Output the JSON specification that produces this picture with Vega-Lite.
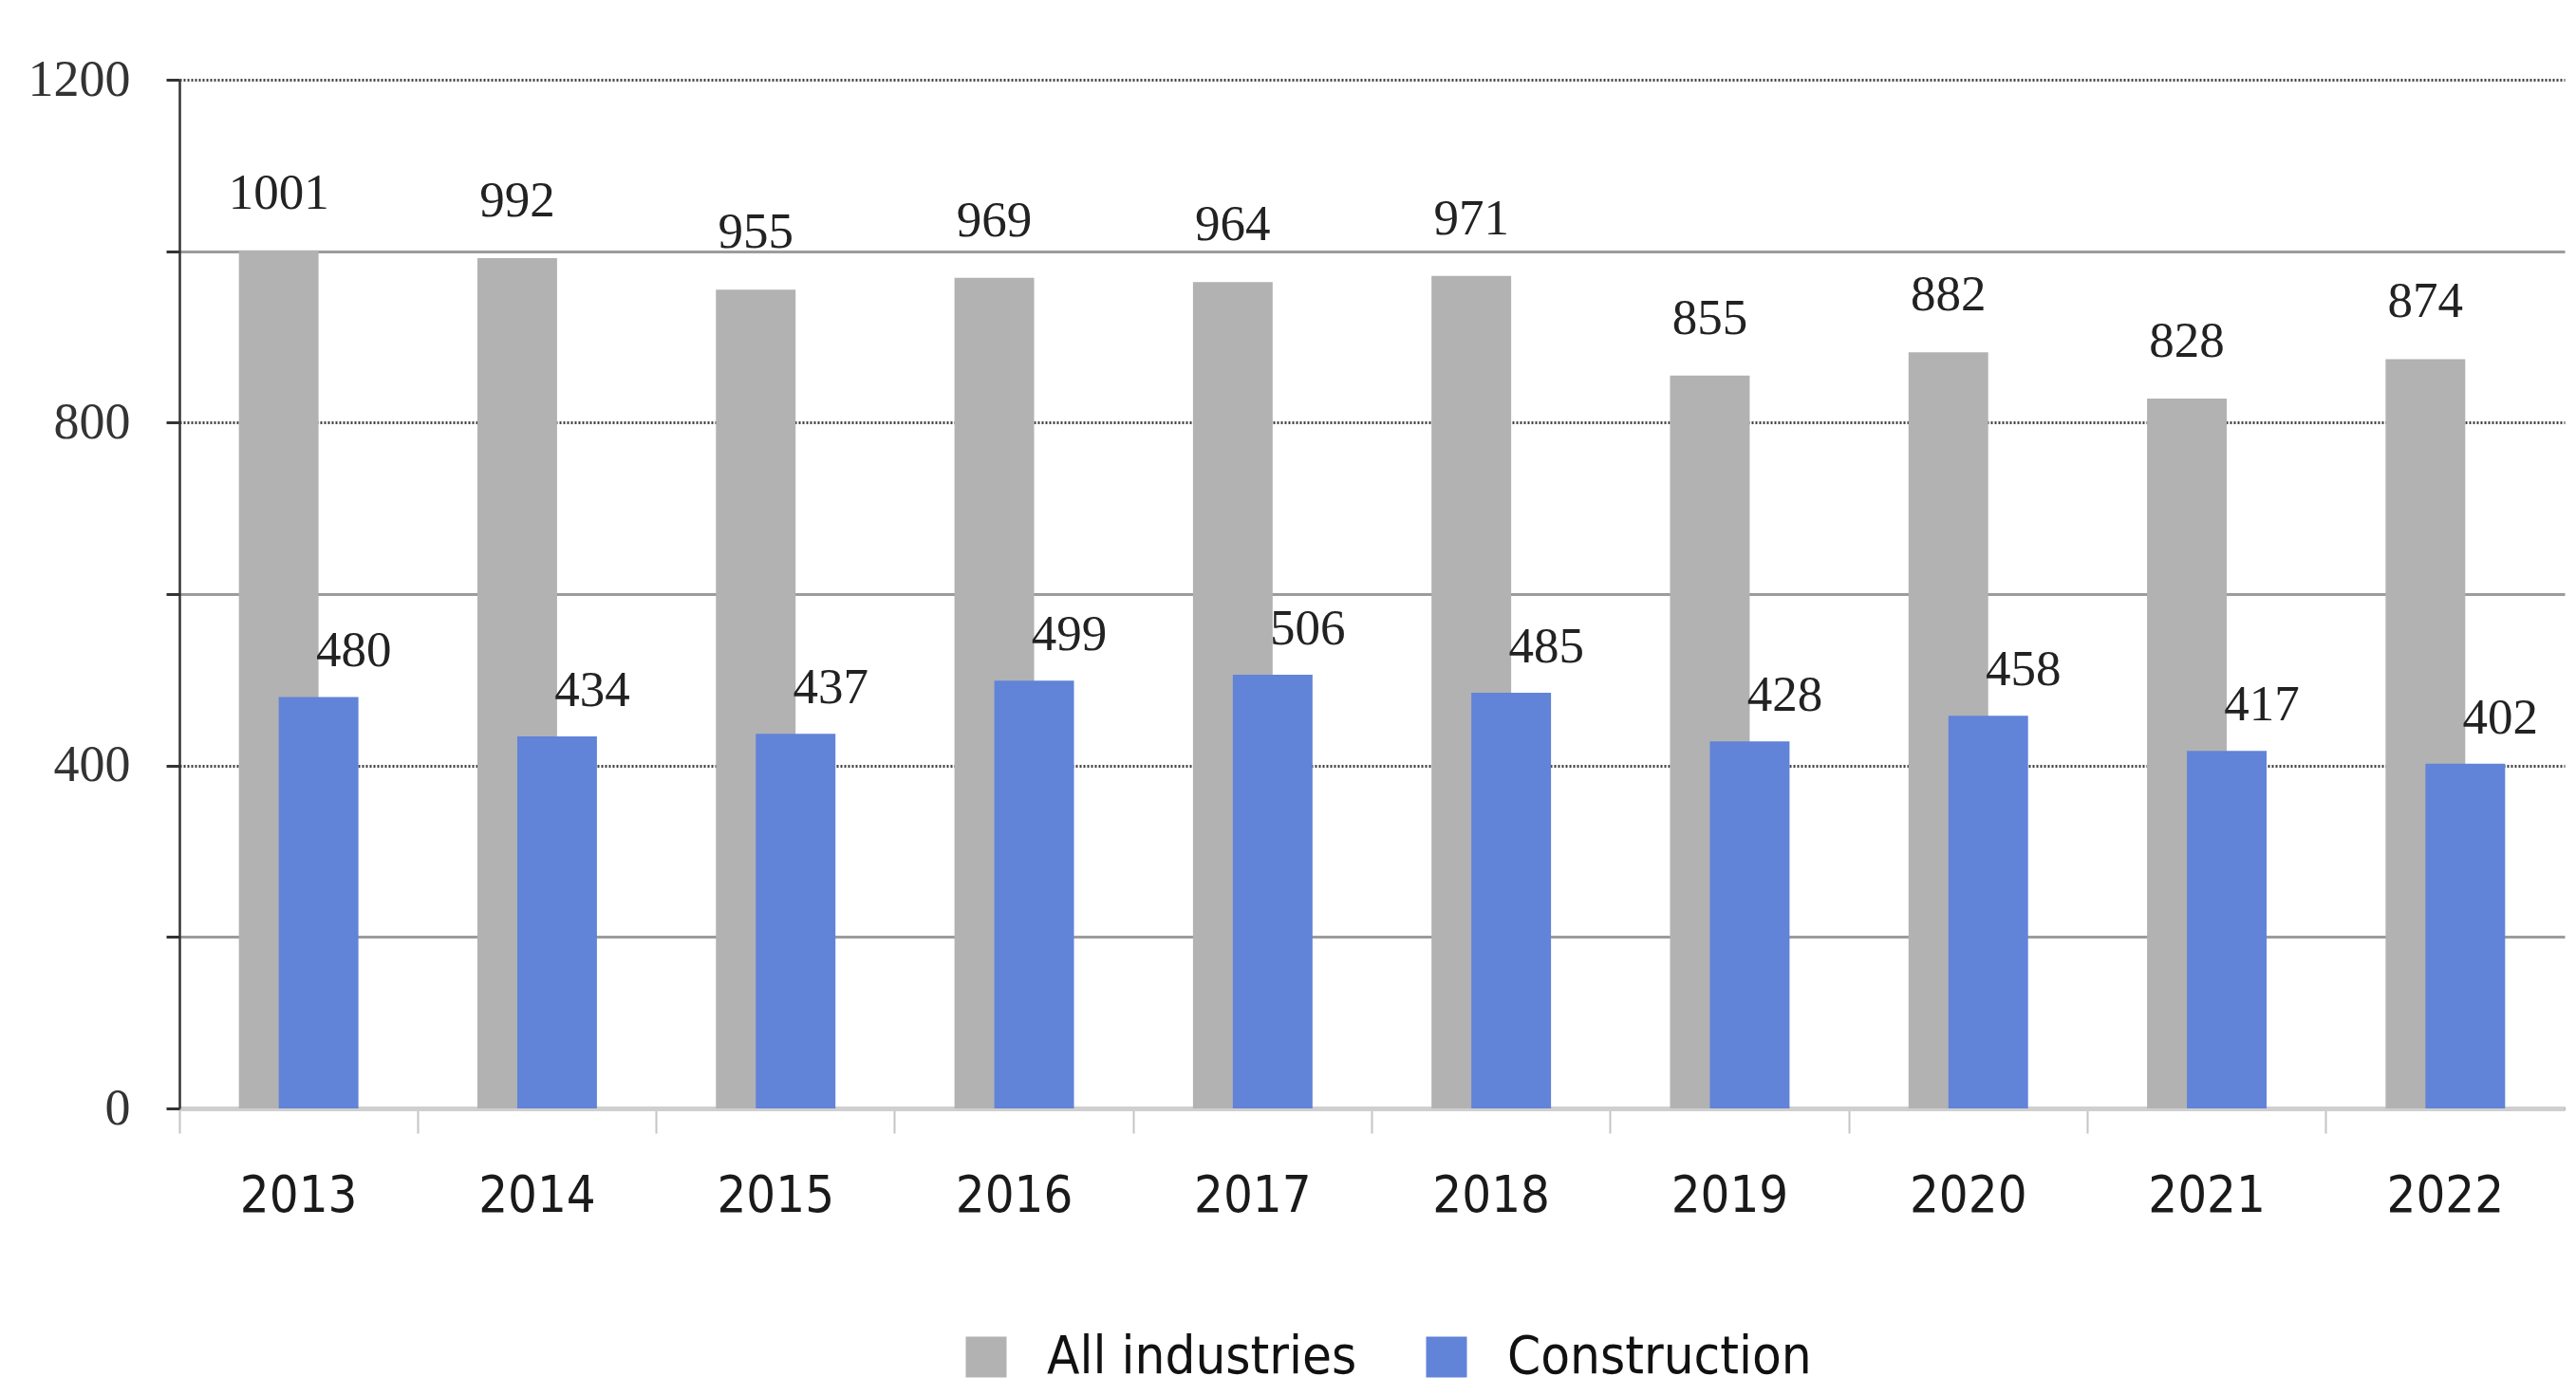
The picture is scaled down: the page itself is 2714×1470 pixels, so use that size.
{
  "$schema": "https://vega.github.io/schema/vega-lite/v6.json",
  "width": 2513,
  "height": 1084,
  "autosize": {"type": "none"},
  "padding": {"left": 189, "top": 84, "right": 12, "bottom": 302},
  "background": "white",
  "data": {
    "values": [
      {"year": "2013", "series": "All industries", "value": 1001},
      {"year": "2014", "series": "All industries", "value": 992},
      {"year": "2015", "series": "All industries", "value": 955},
      {"year": "2016", "series": "All industries", "value": 969},
      {"year": "2017", "series": "All industries", "value": 964},
      {"year": "2018", "series": "All industries", "value": 971},
      {"year": "2019", "series": "All industries", "value": 855},
      {"year": "2020", "series": "All industries", "value": 882},
      {"year": "2021", "series": "All industries", "value": 828},
      {"year": "2022", "series": "All industries", "value": 874},
      {"year": "2013", "series": "Construction", "value": 480},
      {"year": "2014", "series": "Construction", "value": 434},
      {"year": "2015", "series": "Construction", "value": 437},
      {"year": "2016", "series": "Construction", "value": 499},
      {"year": "2017", "series": "Construction", "value": 506},
      {"year": "2018", "series": "Construction", "value": 485},
      {"year": "2019", "series": "Construction", "value": 428},
      {"year": "2020", "series": "Construction", "value": 458},
      {"year": "2021", "series": "Construction", "value": 417},
      {"year": "2022", "series": "Construction", "value": 402}
    ]
  },
  "encoding": {
    "x": {
      "field": "year",
      "type": "nominal",
      "title": null,
      "scale": {"paddingInner": 0, "paddingOuter": 0},
      "axis": {
        "labelAngle": 0,
        "labelFont": "DejaVu Sans Condensed, DejaVu Sans",
        "labelFontSize": 54,
        "labelColor": "#1a1a1a",
        "labelBaseline": "middle",
        "labelPadding": 66,
        "bandPosition": 0,
        "ticks": true,
        "tickColor": "#c4c4c4",
        "tickWidth": 2,
        "tickSize": 26,
        "domainColor": "#cfcfcf",
        "domainWidth": 5,
        "grid": false
      }
    },
    "y": {
      "field": "value",
      "type": "quantitative",
      "title": null,
      "scale": {"domain": [0, 1200], "nice": false},
      "axis": {
        "values": [0, 200, 400, 600, 800, 1000, 1200],
        "format": "d",
        "labelExpr": "datum.value % 400 === 0 ? datum.label : ''",
        "labelFont": "Liberation Serif",
        "labelFontSize": 54,
        "labelColor": "#333333",
        "labelPadding": 38,
        "tickColor": "#333333",
        "tickWidth": 3,
        "tickSize": 14,
        "domainColor": "#333333",
        "domainWidth": 2.5,
        "grid": true,
        "gridColor": {"condition": {"test": "datum.value % 400 === 0", "value": "#444444"}, "value": "#9c9c9c"},
        "gridDash": {"condition": {"test": "datum.value % 400 === 0", "value": [2, 2]}, "value": []},
        "gridWidth": 3
      }
    }
  },
  "layer": [
    {
      "transform": [{"filter": "datum.series === 'All industries'"}],
      "mark": {"type": "bar", "width": {"band": 0.334}, "xOffset": -21},
      "encoding": {
        "color": {
          "field": "series",
          "type": "nominal",
          "scale": {"domain": ["All industries", "Construction"], "range": ["#b2b2b2", "#6183d8"]},
          "legend": {
            "title": null,
            "orient": "none",
            "direction": "horizontal",
            "legendX": 822,
            "legendY": 1318,
            "padding": 0,
            "symbolType": "square",
            "symbolSize": 1850,
            "symbolStrokeWidth": 0,
            "labelFont": "DejaVu Sans Condensed, DejaVu Sans",
            "labelFontSize": 56,
            "labelColor": "#111111",
            "labelOffset": 36,
            "columnPadding": 66,
            "labelLimit": 1000
          }
        }
      }
    },
    {
      "transform": [{"filter": "datum.series === 'Construction'"}],
      "mark": {"type": "bar", "width": {"band": 0.334}, "xOffset": 21},
      "encoding": {
        "color": {"field": "series", "type": "nominal"}
      }
    },
    {
      "transform": [{"filter": "datum.series === 'All industries'"}],
      "mark": {"type": "text", "font": "Liberation Serif", "fontSize": 53, "color": "#222222", "baseline": "middle", "dx": -21, "dy": -60},
      "encoding": {"text": {"field": "value", "type": "quantitative"}}
    },
    {
      "transform": [{"filter": "datum.series === 'Construction'"}],
      "mark": {"type": "text", "font": "Liberation Serif", "fontSize": 53, "color": "#222222", "baseline": "middle", "dx": 58, "dy": -48},
      "encoding": {"text": {"field": "value", "type": "quantitative"}}
    }
  ],
  "config": {"view": {"stroke": null}}
}
